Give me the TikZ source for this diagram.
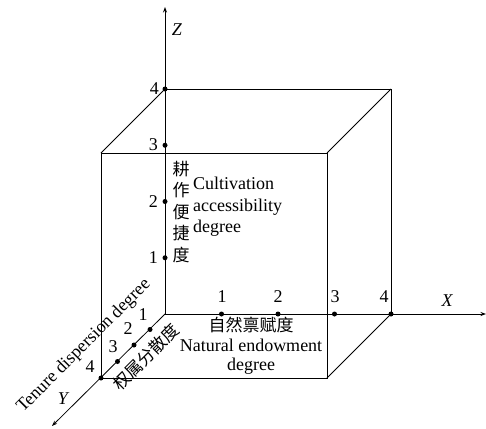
\documentclass[tikz,border=0pt]{standalone}
\usepackage{fontspec}
\setmainfont{Liberation Serif}
\newfontfamily\cjk{Noto Sans CJK SC}
\usetikzlibrary{arrows.meta}
\begin{document}
\begin{tikzpicture}[x=1pt,y=-1pt,
  edge/.style={line width=0.8pt},
  axis/.style={line width=0.8pt,-{Stealth[length=5.5pt,width=4pt]}},
  tickdot/.style={circle,fill,inner sep=0pt,minimum size=5pt},
  lbl/.style={font=\fontsize{18}{20}\selectfont,inner sep=0pt},
  cjklbl/.style={font=\fontsize{17}{20}\selectfont\cjk,inner sep=0pt},
]
\useasboundingbox (0,0) rectangle (486,428);
% corners
\coordinate (O) at (165,314);
\coordinate (B1) at (391,314);
\coordinate (B2) at (391,89);
\coordinate (B3) at (165,89);
\coordinate (F0) at (101,378);
\coordinate (F1) at (327,378);
\coordinate (F2) at (327,153);
\coordinate (F3) at (101,153);
% axis ends
\coordinate (Xend) at (486,314);
\coordinate (Zend) at (165,7);
\coordinate (Yend) at (52,426);
% cube
\draw[edge] (B3) -- (B2) -- (B1);
\draw[edge] (F0) -- (F1) -- (F2) -- (F3) -- cycle;
\draw[edge] (B3) -- (F3);
\draw[edge] (B2) -- (F2);
\draw[edge] (B1) -- (F1);
% axes
\draw[axis] (O) -- (Xend);
\draw[axis] (O) -- (Zend);
\draw[axis] (O) -- (Yend);
% tick dots
\node[tickdot] (x1) at (221.5,314) {};
\node[tickdot] (x2) at (278,314) {};
\node[tickdot] (x3) at (334.5,314) {};
\node[tickdot] (x4) at (391,314) {};
\node[tickdot] (z1) at (165,257.75) {};
\node[tickdot] (z2) at (165,201.5) {};
\node[tickdot] (z3) at (165,145.25) {};
\node[tickdot] (z4) at (165,89) {};
\node[tickdot] (y1) at (150,329.5) {};
\node[tickdot] (y2) at (134,345) {};
\node[tickdot] (y3) at (117.5,361.5) {};
\node[tickdot] (y4) at (101,378) {};
% tick labels
\node[lbl] (lx1) at (222,297) {1};
\node[lbl] (lx2) at (278,297) {2};
\node[lbl] (lx3) at (335,297) {3};
\node[lbl] (lx4) at (384,297) {4};
\node[lbl,anchor=east] (lz1) at (158,258) {1};
\node[lbl,anchor=east] (lz2) at (158,202) {2};
\node[lbl,anchor=east] (lz3) at (158,145) {3};
\node[lbl,anchor=east] (lz4) at (159,89) {4};
\node[lbl] (ly1) at (143,315) {1};
\node[lbl] (ly2) at (128,329) {2};
\node[lbl] (ly3) at (113,347) {3};
\node[lbl] (ly4) at (90,367) {4};
% axis names
\node[lbl,font=\fontsize{18}{20}\selectfont\itshape] (lX) at (447,301) {X};
\node[lbl,font=\fontsize{18}{20}\selectfont\itshape] (lZ) at (177,30) {Z};
\node[lbl,font=\fontsize{18}{20}\selectfont\itshape] (lY) at (63,399) {Y};
% Z axis name
\node[cjklbl,align=center,font=\fontsize{17}{21.5}\selectfont\cjk] (zcn) at (181,212) {耕\\作\\便\\捷\\度};
\node[lbl,align=left,anchor=west,font=\fontsize{18}{21.5}\selectfont] (zen) at (193,207) {Cultivation\\accessibility\\degree};
% X axis name
\node[lbl,align=center,font=\fontsize{18}{19.5}\selectfont] (xname) at (251,346) {{\cjk\fontsize{17}{19.5}\selectfont 自然禀赋度}\\Natural endowment\\degree};
% Y axis name
\node[lbl,rotate=45] (yen) at (84,346) {Tenure dispersion degree};
\node[cjklbl,rotate=45] (ycn) at (146,357) {权属分散度};
\end{tikzpicture}
\end{document}
